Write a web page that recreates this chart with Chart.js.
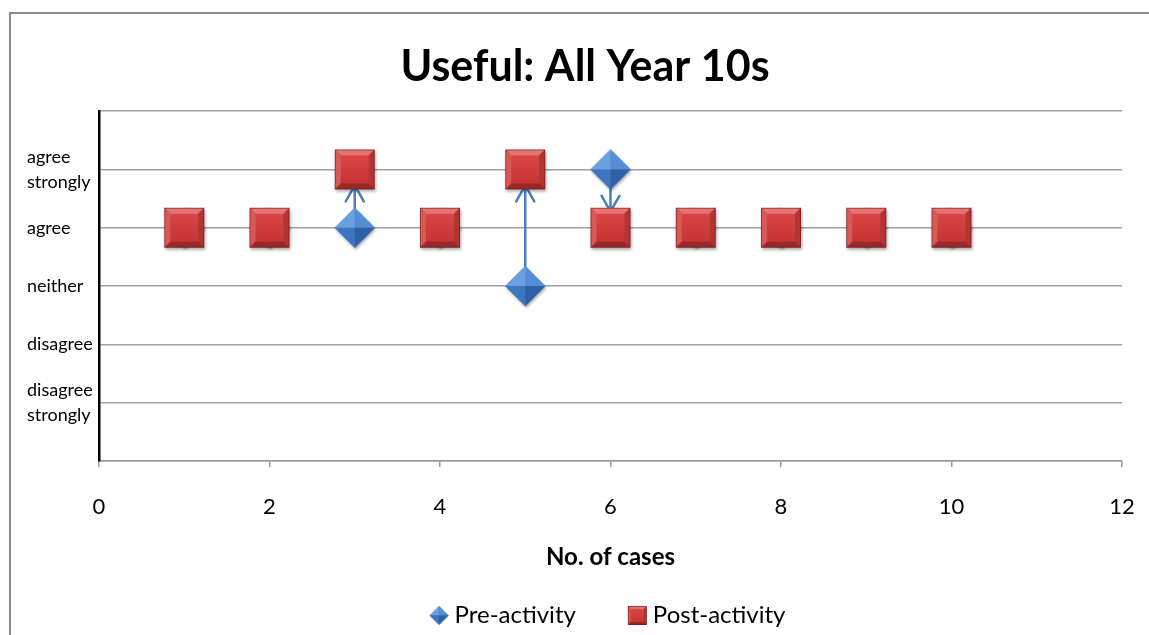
<!DOCTYPE html>
<html><head><meta charset="utf-8">
<script src="https://cdn.jsdelivr.net/npm/chart.js@4/dist/chart.umd.min.js"></script>
<style>
html,body{margin:0;padding:0;background:#fff;overflow:hidden;}
#wrap{position:relative;width:1149px;height:635px;overflow:hidden;}
#frame{position:absolute;left:9px;top:12px;width:1300px;height:800px;border:2px solid #8c8c8c;box-sizing:border-box;}
#c{position:absolute;left:0;top:0;}
</style></head><body>
<div id="wrap"><div id="frame"></div><canvas id="c" width="1149" height="635"></canvas></div>
<script>
// ---- data ----
const cases = [1, 2, 3, 4, 5, 6, 7, 8, 9, 10];
const preActivity  = [4, 4, 4, 4, 3, 5, 4, 4, 4, 4];
const postActivity = [4, 4, 5, 4, 5, 4, 4, 4, 4, 4];
const xTickValues = [0, 2, 4, 6, 8, 10, 12];
const yTickLabels = ['', ['disagree', 'strongly'], 'disagree', 'neither', 'agree', ['agree', 'strongly'], ''];
const seriesNames = ['Pre-activity', 'Post-activity'];

Chart.defaults.font.family = 'Lato, "Open Sans", sans-serif';

function poly(g, pts, col) {
  g.beginPath(); g.moveTo(pts[0][0], pts[0][1]);
  for (let i = 1; i < pts.length; i++) g.lineTo(pts[i][0], pts[i][1]);
  g.closePath(); g.fillStyle = col; g.fill();
}
function makeSquareImg(side, pad, b, shadow) {
  const s = side + 2 * pad;
  const c = document.createElement('canvas'); c.width = s; c.height = s;
  const g = c.getContext('2d');
  const x0 = pad, y0 = pad, x1 = pad + side, y1 = pad + side;
  g.save();
  if (shadow) { g.shadowColor = 'rgba(0,0,0,0.35)'; g.shadowBlur = 3; g.shadowOffsetX = 1; g.shadowOffsetY = 2; }
  g.fillStyle = '#b83030'; g.fillRect(x0, y0, side, side); g.restore();
  poly(g, [[x0, y0], [x1, y0], [x1 - b, y0 + b], [x0 + b, y0 + b]], '#e57474');
  poly(g, [[x0, y0], [x0 + b, y0 + b], [x0 + b, y1 - b], [x0, y1]], '#d95858');
  poly(g, [[x1, y0], [x1, y1], [x1 - b, y1 - b], [x1 - b, y0 + b]], '#b23434');
  poly(g, [[x0, y1], [x1, y1], [x1 - b, y1 - b], [x0 + b, y1 - b]], '#982828');
  const gr = g.createLinearGradient(0, y0 + b, 0, y1 - b);
  gr.addColorStop(0, '#da4646'); gr.addColorStop(1, '#c63434');
  g.fillStyle = gr; g.fillRect(x0 + b, y0 + b, side - 2 * b, side - 2 * b);
  g.strokeStyle = 'rgba(110,25,25,0.6)'; g.lineWidth = 1; g.strokeRect(x0 + 0.5, y0 + 0.5, side - 1, side - 1);
  return c;
}
function makeDiamondImg(r, pad, shadow) {
  const s = 2 * r + 2 * pad;
  const c = document.createElement('canvas'); c.width = s; c.height = s;
  const g = c.getContext('2d');
  const cx = s / 2, cy = s / 2;
  const T = [cx, cy - r], R = [cx + r, cy], B = [cx, cy + r], L = [cx - r, cy], C = [cx, cy];
  g.save();
  if (shadow) { g.shadowColor = 'rgba(0,0,0,0.35)'; g.shadowBlur = 3; g.shadowOffsetX = 1; g.shadowOffsetY = 2; }
  poly(g, [T, R, B, L], '#3a70b6'); g.restore();
  poly(g, [T, L, C], '#6a9fe0');
  poly(g, [T, R, C], '#538dd4');
  poly(g, [L, B, C], '#3d76c0');
  poly(g, [R, B, C], '#2d60a4');
  return c;
}
const squareImg = makeSquareImg(40, 5, 6, true);
const diamondImg = makeDiamondImg(20, 5, true);
const squareLegend = makeSquareImg(19, 1, 3, false);
const diamondLegend = makeDiamondImg(9.5, 1, false);

const arrowPlugin = {
  id: 'arrows',
  beforeDatasetsDraw(chart) {
    const {ctx, scales: {x, y}} = chart;
    ctx.save();
    ctx.strokeStyle = '#4a7ebf'; ctx.lineWidth = 2.5; ctx.lineCap = 'round'; ctx.lineJoin = 'round';
    cases.forEach((c, i) => {
      if (preActivity[i] === postActivity[i]) return;
      const px = x.getPixelForValue(c);
      const y0 = y.getPixelForValue(preActivity[i]);
      const y1 = y.getPixelForValue(postActivity[i]);
      const dir = Math.sign(y1 - y0);
      const ys = y0 + dir * 18, ye = y1 - dir * 16;
      ctx.beginPath(); ctx.moveTo(px, ys); ctx.lineTo(px, ye); ctx.stroke();
      ctx.beginPath(); ctx.moveTo(px - 9, ye - dir * 16); ctx.lineTo(px, ye); ctx.lineTo(px + 9, ye - dir * 16); ctx.stroke();
    });
    ctx.restore();
  }
};

new Chart(document.getElementById('c'), {
  type: 'scatter',
  data: {
    datasets: [
      { label: seriesNames[0], data: cases.map((c, i) => ({x: c, y: preActivity[i]})),
        pointStyle: diamondImg, pointRadius: 20, pointHoverRadius: 20, order: 1 },
      { label: seriesNames[1], data: cases.map((c, i) => ({x: c, y: postActivity[i]})),
        pointStyle: squareImg, pointRadius: 20, pointHoverRadius: 20, order: 0 }
    ]
  },
  options: {
    responsive: false, animation: false, events: [],
    layout: { padding: { left: 27, right: 6, top: 0, bottom: -2.5 } },
    plugins: {
      title: { display: true, text: 'Useful: All Year 10s', color: '#000',
        font: { size: 43, weight: 'bold' }, padding: { top: 41, bottom: 18.5 } },
      legend: { display: true, position: 'bottom', fullSize: false,
        labels: { usePointStyle: true, boxWidth: 7, padding: 58, color: '#000', font: { size: 24 },
          generateLabels: () => [
            { text: seriesNames[0], pointStyle: diamondLegend, fillStyle: '#3a70b6', strokeStyle: '#3a70b6', lineWidth: 0, hidden: false, datasetIndex: 0, fontColor: '#000' },
            { text: seriesNames[1], pointStyle: squareLegend, fillStyle: '#c63636', strokeStyle: '#c63636', lineWidth: 0, hidden: false, datasetIndex: 1, fontColor: '#000' }
          ] } },
      tooltip: { enabled: false }
    },
    scales: {
      x: { type: 'linear', position: 'bottom', min: 0, max: 12,
        afterBuildTicks: s => { s.ticks = xTickValues.map(v => ({value: v})); },
        ticks: { color: '#000', font: { size: 22, lineHeight: 3.27 }, padding: 4 },
        grid: { drawOnChartArea: false, drawTicks: true, tickLength: 6, color: '#9a9a9a', lineWidth: 1.5 },
        border: { color: '#9a9a9a', width: 1.5 },
        title: { display: true, text: 'No. of cases', color: '#000', font: { size: 24, weight: 'bold' }, padding: { top: 0, bottom: -25.9 } },
        afterFit: s => { s.height = 84.5; } },
      y: { type: 'linear', position: 'left', min: 0, max: 6,
        ticks: { stepSize: 1, crossAlign: 'far', color: '#000', font: { size: 18, lineHeight: 1.39 },
          callback: v => yTickLabels[v] ?? '' },
        grid: { color: '#a0a0a0', lineWidth: 1.5, drawTicks: false },
        border: { color: '#000', width: 2.5 },
        afterFit: s => { s.width = 72; } },
      y2: { type: 'linear', position: 'right', display: true,
        grid: { display: false }, ticks: { display: false }, border: { display: false },
        afterFit: s => { s.width = 21; } }
    }
  },
  plugins: [arrowPlugin]
});
</script>
</body></html>
